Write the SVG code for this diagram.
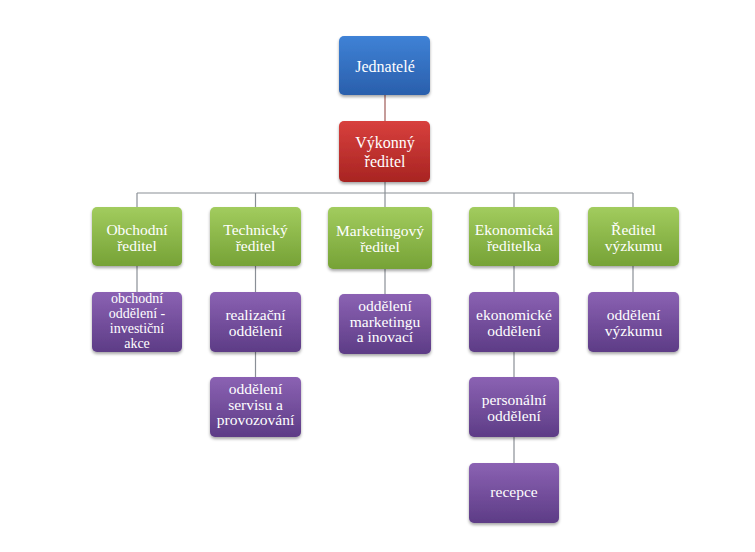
<svg xmlns="http://www.w3.org/2000/svg" width="755" height="552" viewBox="0 0 755 552">
<defs>
<linearGradient id="gBlue" x1="0" y1="0" x2="0" y2="1"><stop offset="0" stop-color="#3f82d6"/><stop offset="1" stop-color="#2a5fac"/></linearGradient>
<linearGradient id="gRed" x1="0" y1="0" x2="0" y2="1"><stop offset="0" stop-color="#d8403d"/><stop offset="1" stop-color="#a82422"/></linearGradient>
<linearGradient id="gGreen" x1="0" y1="0" x2="0" y2="1"><stop offset="0" stop-color="#a2cc5e"/><stop offset="1" stop-color="#76a236"/></linearGradient>
<linearGradient id="gPurple" x1="0" y1="0" x2="0" y2="1"><stop offset="0" stop-color="#8b62b3"/><stop offset="1" stop-color="#5d3c86"/></linearGradient>
<filter id="sh" x="-20%" y="-20%" width="140%" height="150%"><feDropShadow dx="0" dy="2" stdDeviation="1.8" flood-color="#000" flood-opacity="0.35"/></filter>
</defs>
<style>
.box{filter:url(#sh)}
.blue{fill:url(#gBlue)}
.red{fill:url(#gRed)}
.green{fill:url(#gGreen)}
.purple{fill:url(#gPurple)}
text{font-family:'Liberation Serif','Times New Roman',serif;font-size:15.5px;fill:#ffffff;text-anchor:middle}
.big{font-size:16px}
.tight{font-size:14px}
.conn line{stroke:#8a8f96;stroke-width:1.2}
.conn line.top{stroke:#9e5a57}
</style>
<g id="connectors" class="conn">
<line class="top" x1="385" y1="95" x2="385" y2="121"/>
<line x1="385" y1="182" x2="385" y2="207"/>
<line x1="137" y1="193" x2="633" y2="193"/>
<line x1="137" y1="193" x2="137" y2="207"/>
<line x1="255.5" y1="193" x2="255.5" y2="207"/>
<line x1="514" y1="193" x2="514" y2="207"/>
<line x1="633" y1="193" x2="633" y2="207"/>
<line x1="137" y1="266" x2="137" y2="292"/>
<line x1="255.5" y1="266" x2="255.5" y2="292"/>
<line x1="255.5" y1="352" x2="255.5" y2="377"/>
<line x1="385" y1="269" x2="385" y2="294"/>
<line x1="514" y1="266" x2="514" y2="292"/>
<line x1="514" y1="352" x2="514" y2="377"/>
<line x1="514" y1="437" x2="514" y2="463"/>
<line x1="633" y1="266" x2="633" y2="292"/>
</g>
<g id="n-jednatele"><rect class="box blue" x="339" y="36" width="91" height="59" rx="5"/><text class="big" x="385" y="72">Jednatelé</text></g>
<g id="n-vykonny"><rect class="box red" x="339" y="121" width="91" height="61" rx="5"/><text class="big" x="385" y="148">Výkonný</text><text class="big" x="385" y="167">ředitel</text></g>
<g id="n-obchodni"><rect class="box green" x="92" y="207" width="90" height="59" rx="5"/><text x="137" y="235">Obchodní</text><text x="137" y="250.5">ředitel</text></g>
<g id="n-technicky"><rect class="box green" x="210" y="207" width="91" height="59" rx="5"/><text x="255.5" y="235">Technický</text><text x="255.5" y="250.5">ředitel</text></g>
<g id="n-marketing"><rect class="box green" x="328" y="207" width="104" height="62" rx="5"/><text x="380" y="236">Marketingový</text><text x="380" y="251.5">ředitel</text></g>
<g id="n-ekonomicka"><rect class="box green" x="469" y="207" width="90" height="59" rx="5"/><text x="514" y="235">Ekonomická</text><text x="514" y="250.5">ředitelka</text></g>
<g id="n-vyzkum"><rect class="box green" x="588" y="207" width="91" height="59" rx="5"/><text x="633.5" y="235">Ředitel</text><text x="633.5" y="250.5">výzkumu</text></g>
<g id="n-obchodni-odd"><rect class="box purple" x="92" y="292" width="90" height="60" rx="5"/><text class="tight" x="137" y="303">obchodní</text><text class="tight" x="137" y="318">oddělení -</text><text class="tight" x="137" y="333">investiční</text><text class="tight" x="137" y="348">akce</text></g>
<g id="n-realizacni"><rect class="box purple" x="210" y="292" width="91" height="60" rx="5"/><text x="255.5" y="320">realizační</text><text x="255.5" y="335.5">oddělení</text></g>
<g id="n-servis"><rect class="box purple" x="210" y="377" width="91" height="60" rx="5"/><text x="255.5" y="394">oddělení</text><text x="255.5" y="409.5">servisu a</text><text x="255.5" y="425">provozování</text></g>
<g id="n-marketing-odd"><rect class="box purple" x="339" y="294" width="92" height="60" rx="5"/><text x="385" y="311">oddělení</text><text x="385" y="326.5">marketingu</text><text x="385" y="342">a inovací</text></g>
<g id="n-ekonomicke"><rect class="box purple" x="469" y="292" width="90" height="60" rx="5"/><text x="514" y="320">ekonomické</text><text x="514" y="335.5">oddělení</text></g>
<g id="n-personalni"><rect class="box purple" x="469" y="377" width="90" height="60" rx="5"/><text x="514" y="405">personální</text><text x="514" y="420.5">oddělení</text></g>
<g id="n-recepce"><rect class="box purple" x="469" y="463" width="90" height="60" rx="5"/><text x="514" y="497">recepce</text></g>
<g id="n-vyzkum-odd"><rect class="box purple" x="588" y="292" width="91" height="60" rx="5"/><text x="633.5" y="320">oddělení</text><text x="633.5" y="335.5">výzkumu</text></g>
</svg>
